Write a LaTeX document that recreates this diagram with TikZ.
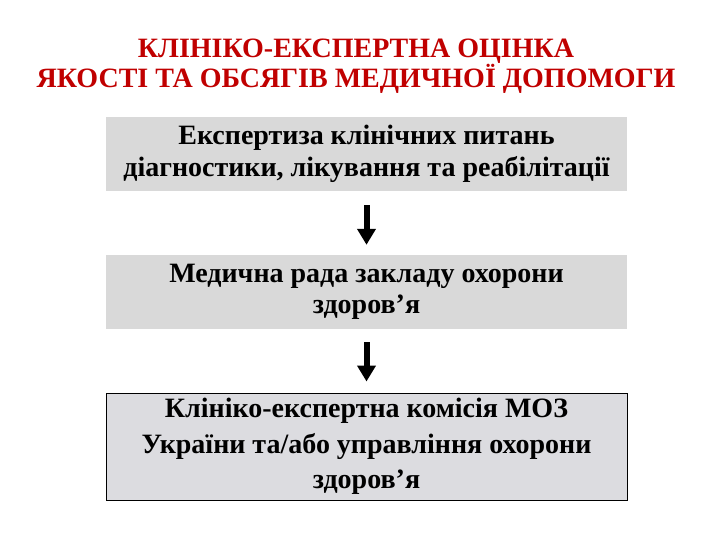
\documentclass[tikz,border=0pt]{standalone}
\usepackage{fontspec}
\setmainfont{Liberation Serif}
\usetikzlibrary{arrows.meta}
\definecolor{titlered}{HTML}{C00000}
\definecolor{boxgray}{HTML}{D9D9D9}
\definecolor{boxgrayb}{HTML}{DCDCE0}
\begin{document}
\begin{tikzpicture}[x=1pt,y=1pt,
  stepbox/.style={fill=boxgray, minimum width=521pt, align=center, font=\fontsize{28}{31.5}\selectfont\bfseries, inner sep=0pt},
  flowarrow/.style={line width=6pt, -{Triangle[width=18pt,length=16pt]}, black}]
\useasboundingbox (0,0) rectangle (720,-540);
\node[font=\fontsize{28}{30}\selectfont\bfseries, text=titlered, align=center] (title) at (356,-66) {КЛІНІКО-ЕКСПЕРТНА ОЦІНКА\\ЯКОСТІ ТА ОБСЯГІВ МЕДИЧНОЇ ДОПОМОГИ};
\node[stepbox, minimum height=74pt] (b1) at (366.5,-154) {Експертиза клінічних питань\\діагностики, лікування та реабілітації};
\node[stepbox, minimum height=74pt] (b2) at (366.5,-292) {Медична рада закладу охорони\\здоров’я};
\node[stepbox, fill=boxgrayb, draw=black, line width=1pt, minimum height=107pt, font=\fontsize{28}{35.5}\selectfont\bfseries] (b3) at (366.5,-446.5) {Клініко-експертна комісія МОЗ\\України та/або управління охорони\\здоров’я};
\draw[flowarrow] ([yshift=-14pt]b1.south) -- ([yshift=10pt]b2.north);
\draw[flowarrow] ([yshift=-13pt]b2.south) -- ([yshift=11pt]b3.north);
\end{tikzpicture}
\end{document}
